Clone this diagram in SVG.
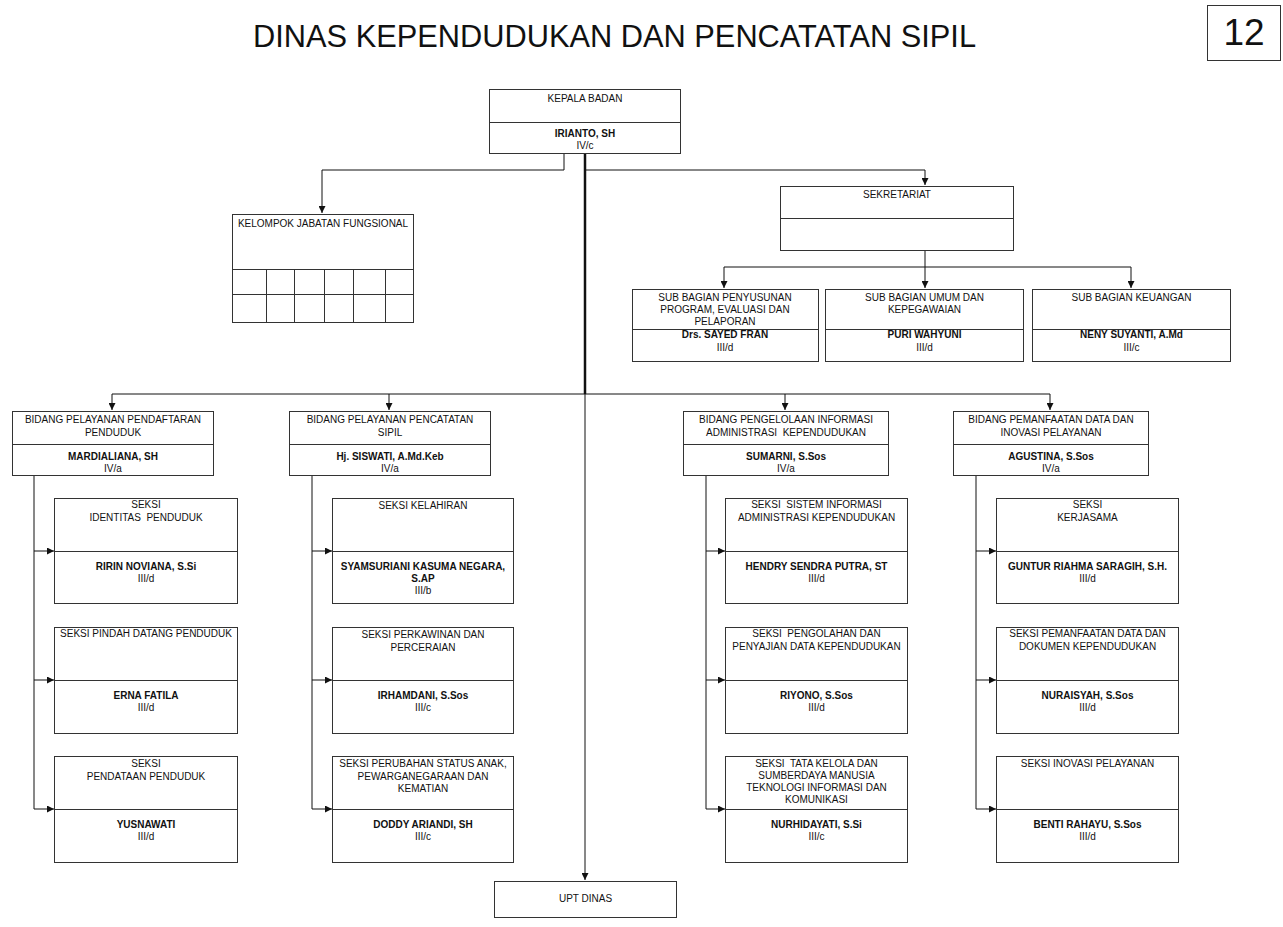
<svg xmlns="http://www.w3.org/2000/svg" width="1283" height="927" viewBox="0 0 1283 927">
<style>
.box{fill:#fff;stroke:#333;stroke-width:1}
.dv{stroke:#333;stroke-width:1}
.t{font-family:"Liberation Sans",Arial,Helvetica,sans-serif;font-size:10px;text-anchor:middle;fill:#111;white-space:pre}
.b{font-weight:bold}
.ln{stroke:#111;stroke-width:1;fill:none}
.ar{marker-end:url(#ah)}
</style>
<defs>
<marker id="ah" viewBox="0 0 8 8" refX="8" refY="4" markerWidth="7" markerHeight="7" markerUnits="userSpaceOnUse" orient="auto">
<path d="M0,0 L8,4 L0,8 z" fill="#111"/>
</marker>
</defs>
<rect width="1283" height="927" fill="#fff"/>

<g id="title">
<text x="614.5" y="47" font-family="Liberation Sans,Arial,sans-serif" font-size="31" text-anchor="middle" fill="#111" textLength="723" lengthAdjust="spacingAndGlyphs">DINAS KEPENDUDUKAN DAN PENCATATAN SIPIL</text>
</g>
<g id="page-number">
<rect x="1207.5" y="5.5" width="73" height="55" fill="#fff" stroke="#333" stroke-width="1"/>
<text x="1244" y="45" font-family="Liberation Sans,Arial,sans-serif" font-size="37" text-anchor="middle" fill="#111">12</text>
</g>

<g id="connectors">
<path class="ln" d="M564,153 V170 H322 V213" marker-end="url(#ah)"/>
<path class="ln" d="M585,170 H925 V185" marker-end="url(#ah)"/>
<path d="M585,153 V394" stroke="#111" stroke-width="2.5" fill="none"/>
<path class="ln" d="M585,394 V880" marker-end="url(#ah)"/>
<path class="ln" d="M112,394 H1050"/>
<path class="ln ar" d="M112,394 V410"/>
<path class="ln ar" d="M389,394 V410"/>
<path class="ln ar" d="M785,394 V410"/>
<path class="ln ar" d="M1050,394 V410"/>
<path class="ln" d="M925,250 V267"/>
<path class="ln" d="M724,267 H1131"/>
<path class="ln ar" d="M724,267 V288"/>
<path class="ln ar" d="M925,267 V288"/>
<path class="ln ar" d="M1131,267 V288"/>
<path class="ln" d="M34,475 V809"/>
<path class="ln ar" d="M34,551 H54"/>
<path class="ln ar" d="M34,680 H54"/>
<path class="ln ar" d="M34,809 H54"/>
<path class="ln" d="M312,475 V809"/>
<path class="ln ar" d="M312,551 H332"/>
<path class="ln ar" d="M312,680 H332"/>
<path class="ln ar" d="M312,809 H332"/>
<path class="ln" d="M706,475 V809"/>
<path class="ln ar" d="M706,551 H725"/>
<path class="ln ar" d="M706,680 H725"/>
<path class="ln ar" d="M706,809 H725"/>
<path class="ln" d="M976,475 V809"/>
<path class="ln ar" d="M976,551 H996"/>
<path class="ln ar" d="M976,680 H996"/>
<path class="ln ar" d="M976,809 H996"/>
</g>

<g id="kepala">
<rect class="box" x="489.5" y="89.5" width="191" height="64"/>
<line class="dv" x1="489.5" y1="122.5" x2="680.5" y2="122.5"/>
<text class="t" x="585" y="102">KEPALA BADAN</text>
<text class="t b" x="585" y="137">IRIANTO, SH</text>
<text class="t" x="585" y="149">IV/c</text>
</g>

<g id="kelompok-jabatan-fungsional">
<rect class="box" x="232.5" y="214.5" width="181" height="108"/>
<path class="dv" d="M232.5,269.5 H413.5 M232.5,294.5 H413.5 M266.5,269.5 V322.5 M294.5,269.5 V322.5 M324.5,269.5 V322.5 M353.5,269.5 V322.5 M385.5,269.5 V322.5" fill="none"/>
<text class="t" x="323" y="227">KELOMPOK JABATAN FUNGSIONAL</text>
</g>

<g id="sekretariat">
<rect class="box" x="780.5" y="186.5" width="233" height="64"/>
<line class="dv" x1="780.5" y1="218.5" x2="1013.5" y2="218.5"/>
<text class="t" x="897" y="198">SEKRETARIAT</text>
</g>

<g id="subbag-program">
<rect class="box" x="632.5" y="289.5" width="186" height="72"/>
<line class="dv" x1="632.5" y1="329.5" x2="818.5" y2="329.5"/>
<text class="t" x="725" y="301">SUB BAGIAN PENYUSUNAN</text>
<text class="t" x="725" y="313">PROGRAM, EVALUASI DAN</text>
<text class="t" x="725" y="325">PELAPORAN</text>
<text class="t b" x="725" y="338">Drs. SAYED FRAN</text>
<text class="t" x="725" y="351">III/d</text>
</g>
<g id="subbag-umum">
<rect class="box" x="825.5" y="289.5" width="198" height="72"/>
<line class="dv" x1="825.5" y1="329.5" x2="1023.5" y2="329.5"/>
<text class="t" x="924.5" y="301">SUB BAGIAN UMUM DAN</text>
<text class="t" x="924.5" y="313">KEPEGAWAIAN</text>
<text class="t b" x="924.5" y="338">PURI WAHYUNI</text>
<text class="t" x="924.5" y="351">III/d</text>
</g>
<g id="subbag-keuangan">
<rect class="box" x="1032.5" y="289.5" width="198" height="72"/>
<line class="dv" x1="1032.5" y1="329.5" x2="1230.5" y2="329.5"/>
<text class="t" x="1131.5" y="301">SUB BAGIAN KEUANGAN</text>
<text class="t b" x="1131.5" y="338">NENY SUYANTI, A.Md</text>
<text class="t" x="1131.5" y="351">III/c</text>
</g>

<g id="bidang-pendaftaran">
<rect class="box" x="12.5" y="411.5" width="201" height="64"/>
<line class="dv" x1="12.5" y1="444.5" x2="213.5" y2="444.5"/>
<text class="t" x="113" y="423">BIDANG PELAYANAN PENDAFTARAN</text>
<text class="t" x="113" y="436">PENDUDUK</text>
<text class="t b" x="113" y="460">MARDIALIANA, SH</text>
<text class="t" x="113" y="472">IV/a</text>
</g>
<g id="bidang-pencatatan">
<rect class="box" x="289.5" y="411.5" width="201" height="64"/>
<line class="dv" x1="289.5" y1="444.5" x2="490.5" y2="444.5"/>
<text class="t" x="390" y="423">BIDANG PELAYANAN PENCATATAN</text>
<text class="t" x="390" y="436">SIPIL</text>
<text class="t b" x="390" y="460">Hj. SISWATI, A.Md.Keb</text>
<text class="t" x="390" y="472">IV/a</text>
</g>
<g id="bidang-pengelolaan">
<rect class="box" x="683.5" y="411.5" width="205" height="64"/>
<line class="dv" x1="683.5" y1="444.5" x2="888.5" y2="444.5"/>
<text class="t" x="786" y="423">BIDANG PENGELOLAAN INFORMASI</text>
<text class="t" x="786" y="436">ADMINISTRASI  KEPENDUDUKAN</text>
<text class="t b" x="786" y="460">SUMARNI, S.Sos</text>
<text class="t" x="786" y="472">IV/a</text>
</g>
<g id="bidang-pemanfaatan">
<rect class="box" x="953.5" y="411.5" width="195" height="64"/>
<line class="dv" x1="953.5" y1="444.5" x2="1148.5" y2="444.5"/>
<text class="t" x="1051" y="423">BIDANG PEMANFAATAN DATA DAN</text>
<text class="t" x="1051" y="436">INOVASI PELAYANAN</text>
<text class="t b" x="1051" y="460">AGUSTINA, S.Sos</text>
<text class="t" x="1051" y="472">IV/a</text>
</g>

<!-- Column 1 -->
<g id="seksi-identitas">
<rect class="box" x="54.5" y="498.5" width="183" height="105"/>
<line class="dv" x1="54.5" y1="551.5" x2="237.5" y2="551.5"/>
<text class="t" x="146" y="508">SEKSI</text>
<text class="t" x="146" y="521">IDENTITAS  PENDUDUK</text>
<text class="t b" x="146" y="570">RIRIN NOVIANA, S.Si</text>
<text class="t" x="146" y="582">III/d</text>
</g>
<g id="seksi-pindah">
<rect class="box" x="54.5" y="627.5" width="183" height="106"/>
<line class="dv" x1="54.5" y1="680.5" x2="237.5" y2="680.5"/>
<text class="t" x="146" y="637">SEKSI PINDAH DATANG PENDUDUK</text>
<text class="t b" x="146" y="699">ERNA FATILA</text>
<text class="t" x="146" y="711">III/d</text>
</g>
<g id="seksi-pendataan">
<rect class="box" x="54.5" y="756.5" width="183" height="106"/>
<line class="dv" x1="54.5" y1="809.5" x2="237.5" y2="809.5"/>
<text class="t" x="146" y="767">SEKSI</text>
<text class="t" x="146" y="780">PENDATAAN PENDUDUK</text>
<text class="t b" x="146" y="828">YUSNAWATI</text>
<text class="t" x="146" y="840">III/d</text>
</g>

<!-- Column 2 -->
<g id="seksi-kelahiran">
<rect class="box" x="332.5" y="498.5" width="181" height="105"/>
<line class="dv" x1="332.5" y1="551.5" x2="513.5" y2="551.5"/>
<text class="t" x="423" y="509">SEKSI KELAHIRAN</text>
<text class="t b" x="423" y="570">SYAMSURIANI KASUMA NEGARA,</text>
<text class="t b" x="423" y="582">S.AP</text>
<text class="t" x="423" y="594">III/b</text>
</g>
<g id="seksi-perkawinan">
<rect class="box" x="332.5" y="627.5" width="181" height="106"/>
<line class="dv" x1="332.5" y1="680.5" x2="513.5" y2="680.5"/>
<text class="t" x="423" y="638">SEKSI PERKAWINAN DAN</text>
<text class="t" x="423" y="651">PERCERAIAN</text>
<text class="t b" x="423" y="699">IRHAMDANI, S.Sos</text>
<text class="t" x="423" y="711">III/c</text>
</g>
<g id="seksi-perubahan-status">
<rect class="box" x="332.5" y="756.5" width="181" height="106"/>
<line class="dv" x1="332.5" y1="809.5" x2="513.5" y2="809.5"/>
<text class="t" x="423" y="767">SEKSI PERUBAHAN STATUS ANAK,</text>
<text class="t" x="423" y="779.5">PEWARGANEGARAAN DAN</text>
<text class="t" x="423" y="792">KEMATIAN</text>
<text class="t b" x="423" y="828">DODDY ARIANDI, SH</text>
<text class="t" x="423" y="840">III/c</text>
</g>

<!-- Column 3 -->
<g id="seksi-sistem-informasi">
<rect class="box" x="725.5" y="498.5" width="182" height="105"/>
<line class="dv" x1="725.5" y1="551.5" x2="907.5" y2="551.5"/>
<text class="t" x="816.5" y="508">SEKSI  SISTEM INFORMASI</text>
<text class="t" x="816.5" y="521">ADMINISTRASI KEPENDUDUKAN</text>
<text class="t b" x="816.5" y="570">HENDRY SENDRA PUTRA, ST</text>
<text class="t" x="816.5" y="582">III/d</text>
</g>
<g id="seksi-pengolahan">
<rect class="box" x="725.5" y="627.5" width="182" height="106"/>
<line class="dv" x1="725.5" y1="680.5" x2="907.5" y2="680.5"/>
<text class="t" x="816.5" y="637">SEKSI  PENGOLAHAN DAN</text>
<text class="t" x="816.5" y="650">PENYAJIAN DATA KEPENDUDUKAN</text>
<text class="t b" x="816.5" y="699">RIYONO, S.Sos</text>
<text class="t" x="816.5" y="711">III/d</text>
</g>
<g id="seksi-tata-kelola">
<rect class="box" x="725.5" y="756.5" width="182" height="106"/>
<line class="dv" x1="725.5" y1="809.5" x2="907.5" y2="809.5"/>
<text class="t" x="816.5" y="767">SEKSI  TATA KELOLA DAN</text>
<text class="t" x="816.5" y="779">SUMBERDAYA MANUSIA</text>
<text class="t" x="816.5" y="791">TEKNOLOGI INFORMASI DAN</text>
<text class="t" x="816.5" y="803">KOMUNIKASI</text>
<text class="t b" x="816.5" y="828">NURHIDAYATI, S.Si</text>
<text class="t" x="816.5" y="840">III/c</text>
</g>

<!-- Column 4 -->
<g id="seksi-kerjasama">
<rect class="box" x="996.5" y="498.5" width="182" height="105"/>
<line class="dv" x1="996.5" y1="551.5" x2="1178.5" y2="551.5"/>
<text class="t" x="1087.5" y="508">SEKSI</text>
<text class="t" x="1087.5" y="521">KERJASAMA</text>
<text class="t b" x="1087.5" y="570">GUNTUR RIAHMA SARAGIH, S.H.</text>
<text class="t" x="1087.5" y="582">III/d</text>
</g>
<g id="seksi-pemanfaatan-data">
<rect class="box" x="996.5" y="627.5" width="182" height="106"/>
<line class="dv" x1="996.5" y1="680.5" x2="1178.5" y2="680.5"/>
<text class="t" x="1087.5" y="637">SEKSI PEMANFAATAN DATA DAN</text>
<text class="t" x="1087.5" y="650">DOKUMEN KEPENDUDUKAN</text>
<text class="t b" x="1087.5" y="699">NURAISYAH, S.Sos</text>
<text class="t" x="1087.5" y="711">III/d</text>
</g>
<g id="seksi-inovasi">
<rect class="box" x="996.5" y="756.5" width="182" height="106"/>
<line class="dv" x1="996.5" y1="809.5" x2="1178.5" y2="809.5"/>
<text class="t" x="1087.5" y="767">SEKSI INOVASI PELAYANAN</text>
<text class="t b" x="1087.5" y="828">BENTI RAHAYU, S.Sos</text>
<text class="t" x="1087.5" y="840">III/d</text>
</g>

<g id="upt-dinas">
<rect class="box" x="494.5" y="881.5" width="182" height="36"/>
<text class="t" x="585.5" y="902">UPT DINAS</text>
</g>
</svg>
